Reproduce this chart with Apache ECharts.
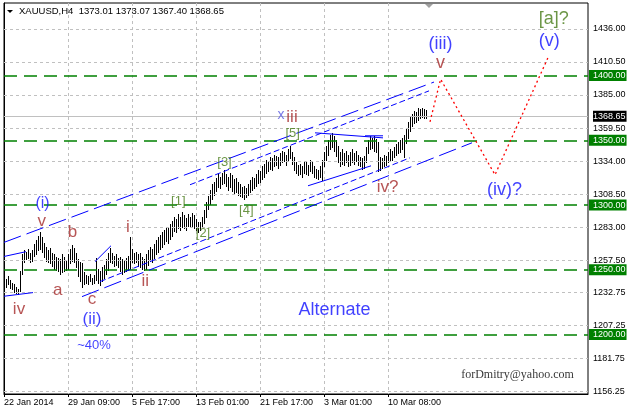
<!DOCTYPE html>
<html><head><meta charset="utf-8">
<script src="https://cdn.jsdelivr.net/npm/echarts@6/dist/echarts.min.js"></script>
<style>html,body{margin:0;padding:0;background:#fff}#c{width:627px;height:408px}</style>
</head><body><div id="c"></div>
<script>
// ---- data (H4 bars, index = bar number) ----
const highs = [1244,1243,1245,1242,1240,1239,1237,1235,1249,1262,
1265,1264,1266,1263,1265,1270,1273,1276,1279,1275,
1271,1268,1265,1267,1263,1262,1260,1259,1258,1262,
1260,1257,1262,1266,1269,1267,1263,1258,1256,1255,
1248,1246,1245,1247,1244,1246,1259,1251,1249,1252,
1254,1258,1263,1267,1263,1261,1262,1259,1260,1258,
1257,1259,1261,1275,1266,1263,1264,1262,1263,1260,
1258,1262,1265,1268,1266,1270,1273,1275,1277,1279,
1281,1283,1282,1285,1288,1291,1289,1293,1291,1295,
1292,1290,1293,1291,1294,1292,1289,1287,1287,1291,
1296,1302,1307,1312,1316,1318,1321,1324,1322,1325,
1327,1324,1322,1325,1323,1320,1321,1318,1316,1314,
1315,1313,1316,1319,1322,1321,1324,1327,1326,1330,
1332,1335,1334,1337,1336,1339,1338,1337,1340,1342,
1341,1339,1343,1346,1341,1337,1333,1331,1332,1330,
1334,1333,1331,1335,1333,1330,1328,1327,1330,1335,
1341,1346,1350,1354,1356,1353,1350,1346,1341,1343,
1340,1342,1339,1341,1343,1340,1342,1339,1337,1336,
1338,1345,1350,1353,1352,1353,1351,1349,1337,1336,
1339,1338,1341,1343,1342,1345,1347,1349,1350,1352,
1354,1359,1364,1368,1370,1373,1372,1375,1374,1375,
1374,1373.07];
const lows = [1238,1237,1239,1236,1235,1233,1232,1231,1234,1247,
1256,1258,1259,1256,1257,1261,1262,1265,1266,1264,
1260,1257,1256,1255,1253,1251,1250,1249,1247,1248,
1249,1250,1251,1255,1257,1256,1252,1245,1241,1237,
1239,1240,1239,1241,1239,1240,1242,1240,1238,1241,
1244,1247,1250,1256,1255,1253,1254,1252,1249,1247,
1248,1249,1250,1251,1256,1255,1256,1253,1252,1251,
1250,1251,1254,1257,1256,1259,1262,1264,1266,1268,
1270,1272,1271,1274,1276,1280,1279,1282,1281,1283,
1282,1281,1284,1283,1284,1282,1281,1279,1281,1283,
1286,1291,1297,1301,1305,1308,1311,1314,1313,1316,
1317,1315,1312,1314,1311,1309,1310,1308,1307,1306,
1305,1306,1308,1310,1312,1313,1315,1317,1318,1320,
1322,1325,1326,1328,1327,1330,1331,1329,1331,1333,
1334,1331,1334,1336,1332,1327,1325,1323,1324,1322,
1325,1324,1323,1326,1325,1322,1321,1320,1322,1319,
1330,1335,1339,1343,1345,1342,1338,1333,1330,1332,
1331,1333,1330,1331,1333,1332,1334,1331,1330,1328,
1329,1333,1340,1343,1344,1342,1341,1326,1327,1329,
1330,1331,1333,1334,1335,1337,1339,1340,1341,1343,
1337,1348,1352,1357,1361,1363,1364,1366,1367,1368,
1367,1367.4];

const xTickIdx = [0, 32, 64, 96, 128, 160, 192];
const xTickLabels = ['22 Jan 2014','29 Jan 09:00','5 Feb 17:00','13 Feb 01:00','21 Feb 17:00','3 Mar 01:00','10 Mar 08:00'];
const yGridValues = [1156.25,1181.75,1207.25,1232.75,1257.5,1283,1308.5,1334,1359.5,1385,1410.5,1436];
const levelValues = [1200,1250,1300,1350,1400];
const lastPrice = 1368.65;
const ohlcTitle = 'XAUUSD,H4  1373.01 1373.07 1367.40 1368.65';

// annotation lines [barIndex, price]
const upperChannel = [[0,1271.2],[215,1395.0]];
const upperInner = [[93,1315.7],[212.5,1388.2]];
const lowerChannel = [[39,1229.3],[234,1348.1]];
const lowerInner = [[48,1240.9],[203,1336.5]];
const shortLines = [
  [[0,1229.6],[14.5,1232.4]],
  [[0,1260.3],[11,1264.0]],
  [[45.5,1256.3],[53.5,1268.6]],
  [[152,1314.9],[183.5,1330.3]],
  [[155.5,1355.8],[189.5,1351.9]],
  [[180.5,1353.5],[189.5,1353.5]]
];
const forecastPath = [[213,1364.3],[218.3,1397.2],[245.5,1323.4],[272.1,1414.2]];

// annotation texts [barIndex, price, text]
const blueLabels = [[19.25,1301.0,'(i)'],[44,1211.6,'(ii)'],[218.25,1424.0,'(iii)'],[250.25,1311.8,'(iv)?'],[272.65,1426.4,'(v)'],[45,1191.5,'~40%'],[165.25,1219.3,'Alternate']];
const brownLabels = [[18.85,1287.5,'v'],[34.25,1278.7,'b'],[26.85,1234.3,'a'],[7.5,1219.3,'iv'],[44,1227.4,'c'],[62,1282.9,'i'],[70.65,1241.3,'ii'],[144,1367.4,'iii'],[191.75,1314.1,'iv?'],[218.25,1409.6,'v ']];
const greenLabels = [[87.15,1302.6,'[1]'],[99.5,1278.1,'[2]'],[110.25,1333.0,'[3]'],[121.15,1295.6,'[4]'],[144.35,1355.0,'[5]'],[274.9,1443.3,'[a]?']];
const purpleLabels = [[138.5,1369.3,'x']];
const signature = [[256.75,1169.1,'forDmitry@yahoo.com']];

// ---- rendering ----
const FONT = 'Liberation Sans, Arial, sans-serif';
const sizeOf = {'(i)':16,'(ii)':17,'(iii)':18,'(iv)?':18,'(v)':18,'~40%':13,'Alternate':18,'v ':18,'[a]?':18,'x':14};
function textSeries(arr, color, defSize, family) {
  return {
    type:'scatter', symbolSize:0, silent:true, z:20,
    data: arr.map(d => ({value:[d[0], d[1]], name:d[2],
      label:{show:true, position:'inside', formatter:d[2].trim(), color:color,
        fontSize: sizeOf[d[2]] || defSize, fontFamily: family || FONT, align:'center', verticalAlign:'middle'}}))
  };
}
function lineSeries(pts, color, type, width, z) {
  return {type:'line', data:pts, showSymbol:false, symbol:'none', silent:true, z:z||5,
    lineStyle:{color:color, type:type, width:width||1}, animation:false};
}

const barData = highs.map((h,i)=>[i, h, lows[i]]);

const series = [
  {type:'line', data:[], silent:true, z:1,
    markLine:{silent:true, symbol:['none','none'], animation:false,
      lineStyle:{color:'#c0c0c0', type:[3,3], width:1},
      label:{position:'end', distance:5, color:'#000', fontSize:9, fontFamily:FONT, formatter:p=>p.value.toFixed(2)},
      data: yGridValues.map(v=>({yAxis:v}))}},
  {type:'line', data:[], silent:true, z:2,
    markLine:{silent:true, symbol:['none','none'], animation:false,
      lineStyle:{color:'#008000', type:[13,7], width:1.5},
      label:{position:'end', distance:1, color:'#fff', backgroundColor:'#008000', padding:[1,1,0,4], lineHeight:10,
        fontSize:9, fontFamily:FONT, formatter:p=>p.value.toFixed(2)},
      data: levelValues.map(v=>({yAxis:v}))}},
  {type:'line', data:[], silent:true, z:2,
    markLine:{silent:true, symbol:['none','none'], animation:false,
      lineStyle:{color:'#c0c0c0', type:'solid', width:1},
      label:{position:'end', distance:5, color:'#fff', backgroundColor:'#000', padding:[1,1,0,0], lineHeight:10,
        fontSize:9, fontFamily:FONT, formatter:p=>p.value.toFixed(2)},
      data: [{yAxis:lastPrice}]}},
  {type:'custom', data:barData, z:4, silent:true, encode:{x:0, y:[1,2]},
    renderItem:(params, api)=>{
      const i = api.value(0);
      const t = api.coord([i, api.value(1)]);
      const b = api.coord([i, api.value(2)]);
      const x = Math.round(t[0]) + 0.5;
      return {type:'line', shape:{x1:x, y1:Math.round(t[1]), x2:x, y2:Math.round(b[1])+1},
        style:{stroke:'#000', lineWidth:1}};
    }},
  lineSeries(upperChannel, '#0000ff', [18,6], 1),
  lineSeries(upperInner, '#0000ff', [6,3], 1),
  lineSeries(lowerChannel, '#0000ff', [18,6], 1),
  lineSeries(lowerInner, '#0000ff', [6,3], 1),
  ...shortLines.map(l => lineSeries(l, '#0000ff', 'solid', 1)),
  lineSeries(forecastPath, '#ff0000', [2,3], 1.3, 6),
  textSeries(blueLabels, '#1010ff', 17),
  textSeries(brownLabels, '#a52a2a', 17),
  textSeries(greenLabels, '#467a16', 13),
  textSeries(purpleLabels, '#5a5ae0', 14),
  textSeries(signature, '#000', 12, 'Liberation Serif, Times New Roman, serif')
];

const chart = echarts.init(document.getElementById('c'), null, {renderer:'canvas'});
chart.setOption({
  animation:false,
  backgroundColor:'#fff',
  title:{text:ohlcTitle, left:19, top:6, padding:0,
    textStyle:{fontSize:9.5, fontWeight:'normal', color:'#000', fontFamily:FONT}},
  graphic:[
    {type:'polygon', shape:{points:[[7,10],[13,10],[10,13]]}, style:{fill:'#000'}},
    {type:'polygon', shape:{points:[[425,4],[433,4],[429,8]]}, style:{fill:'#a0a0a0'}}
  ],
  grid:{left:4, right:39, top:3, bottom:14, show:true, borderColor:'#000', borderWidth:1, backgroundColor:'transparent'},
  xAxis:{type:'value', min:0, max:292, interval:16,
    axisLine:{show:true, lineStyle:{color:'#000'}},
    axisTick:{show:true, length:3, customValues:xTickIdx, lineStyle:{color:'#000'}},
    splitLine:{show:true, lineStyle:{color:'#c0c0c0', type:[3,3]}},
    axisLabel:{show:true, customValues:xTickIdx, margin:4, align:'left', color:'#000', fontSize:9, fontFamily:FONT,
      hideOverlap:false,
      formatter:v=>{const k = xTickIdx.indexOf(v); return k>=0 ? xTickLabels[k] : '';}}},
  yAxis:{type:'value', position:'right', min:1154.1, max:1456.05,
    axisLine:{show:true, lineStyle:{color:'#000'}},
    axisTick:{show:true, length:3, customValues:yGridValues, lineStyle:{color:'#000'}},
    splitLine:{show:false}, axisLabel:{show:false}},
  series: series
});
</script>
</body></html>
